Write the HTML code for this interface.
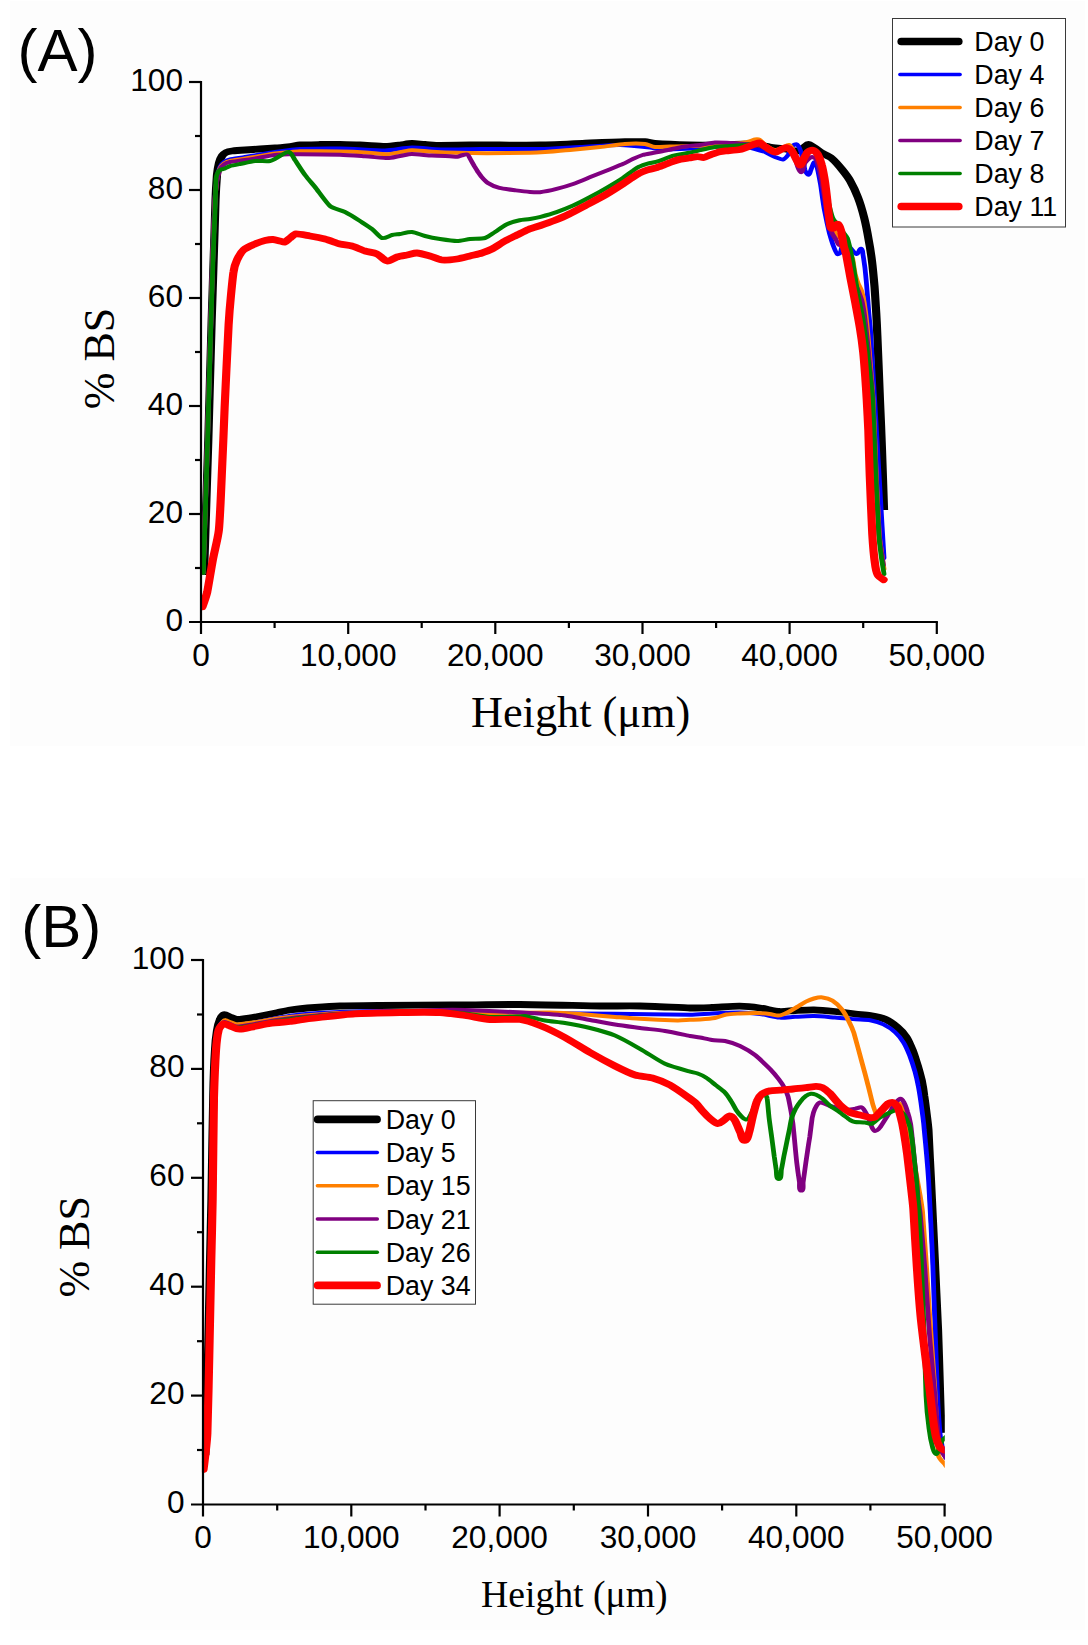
<!DOCTYPE html>
<html lang="en"><head><meta charset="utf-8"><title>Backscattering profiles</title>
<style>html,body{margin:0;padding:0;background:#fff}svg{display:block}</style>
</head><body>
<svg width="1088" height="1645" viewBox="0 0 1088 1645">
<rect width="1088" height="1645" fill="#fff"/>
<rect x="10" y="1" width="1075" height="745" fill="#fdfdfd"/>
<rect x="10" y="878" width="1075" height="752" fill="#fdfdfd"/>
<g>
<clipPath id="clipA"><rect x="199.9" y="72.0" width="737.1" height="550.0"/></clipPath>
<g clip-path="url(#clipA)">
<path transform="scale(1.2 1)" fill="none" stroke="#000000" stroke-width="6.8" stroke-linejoin="round" stroke-linecap="butt" d="M170.0 575.0 C170.0 575.0 171.6 516.0 172.0 500.0 C172.4 484.0 173.2 456.0 173.6 440.0 C174.0 424.0 175.9 338.7 176.4 320.0 C176.9 301.3 178.0 263.3 178.3 250.0 C178.7 236.7 179.4 206.7 179.6 200.0 C179.8 193.3 180.6 178.2 180.8 175.0 C181.1 171.8 182.1 164.9 182.5 163.0 C182.9 161.1 184.4 157.1 185.0 156.0 C185.6 154.9 187.2 153.2 188.3 152.5 C189.4 151.8 192.0 151.2 193.3 151.0 C194.7 150.8 201.3 150.2 204.2 150.0 C207.1 149.8 213.3 149.3 216.7 149.0 C220.0 148.7 225.8 148.3 229.2 148.0 C232.5 147.7 239.4 146.8 241.7 146.5 C243.9 146.2 247.7 145.2 250.0 145.0 C252.3 144.8 262.2 144.6 266.7 144.5 C271.1 144.4 278.9 144.4 283.3 144.5 C287.8 144.6 295.6 144.8 300.0 145.0 C304.4 145.2 317.5 146.5 320.8 146.5 C324.2 146.5 330.7 145.4 333.3 145.0 C336.0 144.6 340.6 143.6 343.3 143.5 C346.0 143.4 351.3 144.3 354.2 144.5 C357.1 144.7 363.3 145.5 366.7 145.5 C370.0 145.5 385.0 145.1 391.7 145.0 C398.3 144.9 410.0 145.0 416.7 145.0 C423.3 145.0 441.1 145.2 450.0 145.0 C458.9 144.8 483.9 143.4 491.7 143.0 C499.4 142.6 516.4 141.8 520.8 141.7 C525.3 141.6 535.2 141.5 537.5 141.7 C539.8 141.9 543.6 143.3 545.8 143.5 C548.1 143.7 568.3 144.8 575.0 145.0 C581.7 145.2 593.3 145.1 600.0 145.0 C606.7 144.9 620.5 143.8 625.0 144.0 C629.5 144.2 638.3 146.4 641.7 147.0 C645.0 147.6 651.5 148.5 654.2 149.0 C656.8 149.5 662.6 151.1 664.2 151.0 C665.7 150.9 667.9 148.9 669.2 148.0 C670.4 147.1 672.1 144.5 673.6 144.5 C675.1 144.5 677.8 147.0 679.2 148.0 C680.6 149.0 683.4 151.8 685.0 153.0 C686.6 154.2 691.4 156.7 693.3 158.6 C695.2 160.5 700.2 167.3 702.0 170.0 C703.8 172.7 706.9 177.5 708.3 180.5 C709.7 183.5 713.4 192.5 714.8 197.0 C716.3 201.5 719.0 212.3 720.2 218.0 C721.4 223.7 723.1 234.3 723.9 240.0 C724.8 245.7 726.1 255.8 726.7 261.6 C727.3 267.4 728.3 280.2 728.8 287.0 C729.2 293.8 729.9 307.1 730.2 313.0 C730.5 318.9 730.9 329.1 731.1 335.0 C731.3 340.9 732.9 386.7 733.3 400.0 C733.8 413.3 734.6 436.7 735.0 450.0 C735.4 463.3 736.7 510.0 736.7 510.0"/>
<path transform="scale(1.2 1)" fill="none" stroke="#0000ff" stroke-width="4.0" stroke-linejoin="round" stroke-linecap="round" d="M169.3 573.0 C169.3 573.0 170.9 516.0 171.3 500.0 C171.8 484.0 172.5 456.0 172.9 440.0 C173.3 424.0 175.0 351.3 175.5 330.0 C176.0 308.7 177.1 263.3 177.5 250.0 C177.9 236.7 178.9 205.9 179.2 200.0 C179.4 194.1 180.5 181.0 180.8 178.0 C181.2 175.0 182.8 168.5 183.3 167.0 C183.9 165.5 185.6 163.0 186.7 162.0 C187.8 161.0 190.2 159.9 191.7 159.5 C193.1 159.1 200.8 157.7 204.2 157.0 C207.5 156.3 213.3 155.2 216.7 154.5 C220.0 153.8 225.8 152.6 229.2 152.0 C232.5 151.4 239.5 150.3 241.7 150.0 C243.9 149.7 247.8 149.1 250.0 149.0 C252.2 148.9 274.4 148.3 283.3 148.5 C292.2 148.7 314.8 150.6 320.8 150.5 C326.9 150.4 337.3 147.6 343.3 147.5 C349.4 147.4 360.4 149.3 366.7 149.5 C372.9 149.7 391.1 149.1 400.0 149.0 C408.9 148.9 441.1 149.2 450.0 149.0 C458.9 148.8 474.4 147.5 483.3 147.0 C492.2 146.5 510.0 144.9 516.7 145.0 C523.4 145.1 539.4 147.2 541.7 147.5 C543.9 147.8 547.7 149.4 550.0 149.5 C552.3 149.6 562.2 149.2 566.7 149.0 C571.1 148.8 578.9 148.4 583.3 148.0 C587.8 147.6 595.6 146.3 600.0 146.0 C604.4 145.7 613.3 145.6 616.7 146.0 C620.1 146.4 626.9 148.3 629.2 149.0 C631.4 149.7 635.4 151.0 637.5 152.0 C639.6 153.0 644.1 156.2 645.8 157.0 C647.5 157.8 650.9 159.8 652.5 159.5 C654.1 159.2 655.8 156.4 656.7 155.0 C657.5 153.6 659.8 146.9 660.4 146.0 C661.0 145.1 663.3 143.8 664.2 144.5 C665.0 145.2 666.9 149.9 667.5 152.0 C668.1 154.1 670.5 168.6 670.8 170.0 C671.2 171.4 672.2 174.7 673.6 174.7 C675.0 174.7 675.2 171.3 675.7 170.0 C676.2 168.7 677.7 163.1 678.3 162.5 C678.9 161.9 680.3 164.1 680.5 165.0 C680.7 165.9 683.0 179.2 683.8 184.4 C684.5 189.6 686.0 203.8 687.0 210.0 C688.0 216.2 690.5 229.9 691.2 233.3 C692.0 236.7 693.8 243.8 694.5 246.0 C695.2 248.2 697.1 253.4 697.7 254.0 C698.2 254.6 700.0 253.3 700.3 252.6 C700.7 251.9 701.6 245.8 702.0 245.0 C702.4 244.2 704.2 243.2 705.0 243.5 C705.8 243.8 707.5 246.3 708.3 247.4 C709.2 248.5 712.0 253.8 713.8 254.0 C715.5 254.2 715.8 248.4 717.5 248.7 C719.2 249.0 718.9 253.3 719.2 255.0 C719.5 256.7 720.4 264.5 720.8 268.0 C721.1 271.5 722.0 281.9 722.3 287.0 C722.7 292.1 723.7 308.5 724.0 313.0 C724.3 317.5 725.2 325.5 725.4 330.0 C725.7 334.5 729.8 420.2 730.7 437.0 C731.5 453.8 733.0 484.5 733.8 500.0 C734.5 515.5 736.7 558.0 736.7 558.0"/>
<path transform="scale(1.2 1)" fill="none" stroke="#ff8000" stroke-width="4.0" stroke-linejoin="round" stroke-linecap="round" d="M169.3 573.0 C169.3 573.0 170.9 516.0 171.3 500.0 C171.8 484.0 172.5 456.0 172.9 440.0 C173.3 424.0 175.0 351.3 175.5 330.0 C176.0 308.7 177.1 263.3 177.5 250.0 C177.9 236.7 178.9 205.6 179.2 200.0 C179.4 194.4 180.5 181.9 180.8 179.0 C181.2 176.1 182.8 170.0 183.3 168.5 C183.9 167.0 185.6 164.5 186.7 163.5 C187.8 162.5 190.2 161.4 191.7 161.0 C193.1 160.6 200.8 159.2 204.2 158.5 C207.5 157.8 213.3 156.7 216.7 156.0 C220.0 155.3 225.9 154.0 229.2 153.5 C232.5 153.0 239.4 152.2 241.7 152.0 C243.9 151.8 247.8 151.2 250.0 151.2 C252.2 151.2 277.8 151.4 283.3 151.5 C288.9 151.6 299.3 152.1 304.2 152.5 C309.1 152.9 319.6 154.3 322.5 154.3 C325.4 154.3 330.7 152.8 333.3 152.3 C336.0 151.8 340.6 150.4 343.3 150.3 C346.1 150.2 355.5 151.4 360.0 151.7 C364.5 152.0 375.5 152.6 381.2 152.8 C386.8 153.0 399.3 153.2 405.8 153.2 C412.4 153.2 438.3 152.9 441.7 152.8 C445.0 152.7 450.8 152.3 454.2 152.0 C457.5 151.7 469.5 150.6 475.0 150.0 C480.5 149.4 494.4 147.7 500.0 147.0 C505.6 146.3 516.4 144.4 520.8 144.0 C525.3 143.6 535.2 143.7 537.5 144.0 C539.8 144.3 543.5 146.7 545.8 147.0 C548.2 147.3 555.0 146.6 558.3 146.5 C561.7 146.4 570.6 146.2 575.0 146.0 C579.4 145.8 594.4 145.4 600.0 145.0 C605.6 144.6 618.5 142.9 620.8 142.5 C623.2 142.1 628.1 139.7 629.2 139.5 C630.3 139.3 632.4 139.4 633.3 140.0 C634.3 140.6 636.1 143.9 637.5 145.0 C638.9 146.1 644.2 149.7 645.8 150.0 C647.4 150.3 650.2 148.6 651.7 148.0 C653.2 147.4 655.9 144.7 657.5 145.0 C659.1 145.3 660.2 148.5 660.8 150.0 C661.5 151.5 663.5 158.3 664.2 160.0 C664.8 161.7 665.4 166.6 667.1 166.0 C668.8 165.4 669.2 159.9 670.0 158.0 C670.8 156.1 672.6 151.9 673.3 151.0 C674.1 150.1 676.4 149.1 677.5 149.5 C678.6 149.9 681.0 152.5 681.7 154.0 C682.4 155.5 684.3 162.0 685.0 165.0 C685.7 168.0 686.9 176.0 687.5 180.0 C688.1 184.0 689.3 194.7 690.0 200.0 C690.7 205.3 692.0 217.3 692.5 220.0 C693.0 222.7 694.5 228.4 695.0 230.0 C695.5 231.6 697.1 235.0 697.7 235.8 C698.3 236.6 700.1 237.2 700.8 238.0 C701.5 238.8 703.5 241.6 704.2 243.0 C704.9 244.4 706.7 250.1 707.5 252.0 C708.3 253.9 710.1 257.0 710.6 259.0 C711.0 261.0 712.2 272.1 712.7 274.4 C713.1 276.7 714.3 280.8 715.0 283.0 C715.7 285.2 717.5 288.9 718.1 291.2 C718.7 293.5 719.8 299.6 720.2 302.7 C720.6 305.8 722.0 319.0 722.5 325.0 C723.0 331.0 724.4 350.7 725.0 360.0 C725.6 369.3 727.0 387.9 727.5 398.0 C728.0 408.1 729.7 460.0 730.2 475.6 C730.8 491.2 732.4 529.2 732.7 534.0 C732.9 538.8 734.1 547.5 734.6 552.0 C735.1 556.5 736.7 569.0 736.7 569.0"/>
<path transform="scale(1.2 1)" fill="none" stroke="#800080" stroke-width="4.0" stroke-linejoin="round" stroke-linecap="round" d="M169.3 573.0 C169.3 573.0 170.9 516.0 171.3 500.0 C171.8 484.0 172.5 456.0 172.9 440.0 C173.3 424.0 175.0 351.3 175.5 330.0 C176.0 308.7 177.1 263.3 177.5 250.0 C177.9 236.7 178.9 205.3 179.2 200.0 C179.4 194.7 180.4 182.9 180.8 180.0 C181.2 177.1 182.8 171.0 183.3 169.5 C183.9 168.0 185.6 165.5 186.7 164.5 C187.8 163.5 190.2 162.4 191.7 162.0 C193.1 161.6 200.8 160.6 204.2 160.0 C207.5 159.4 213.3 158.2 216.7 157.5 C220.0 156.8 225.9 155.4 229.2 155.0 C232.5 154.6 239.4 154.4 241.7 154.3 C243.9 154.2 247.8 154.3 250.0 154.3 C252.2 154.3 277.8 154.6 283.3 154.8 C288.9 155.0 299.2 155.9 304.2 156.3 C309.2 156.7 320.1 158.1 322.9 158.1 C325.8 158.1 330.7 156.5 333.3 156.0 C336.0 155.5 340.6 154.0 343.3 154.0 C346.1 154.0 356.0 155.3 360.0 155.6 C364.0 155.9 373.4 156.1 375.0 156.2 C376.6 156.3 380.1 156.8 381.2 156.7 C382.3 156.6 383.9 155.6 385.0 155.3 C386.1 155.0 388.3 154.0 389.4 154.5 C390.5 155.0 391.1 157.4 391.7 158.5 C392.2 159.6 394.7 164.9 395.4 166.4 C396.2 167.9 397.7 170.8 398.3 172.0 C399.0 173.2 400.1 175.2 400.9 176.3 C401.7 177.4 404.6 181.5 406.4 182.9 C408.2 184.3 413.3 187.0 416.1 187.9 C418.8 188.8 426.8 189.9 429.9 190.4 C433.0 190.9 439.5 191.8 441.7 192.0 C443.9 192.2 447.8 192.5 450.0 192.2 C452.2 191.9 460.2 190.0 463.8 188.9 C467.5 187.8 474.0 185.5 477.6 184.0 C481.2 182.5 487.8 179.1 491.4 177.3 C495.1 175.5 501.5 172.5 505.2 170.7 C508.8 168.9 516.7 165.3 519.0 164.1 C521.3 162.9 525.1 160.3 527.3 159.1 C529.4 157.9 533.4 155.8 535.5 155.0 C537.6 154.2 541.6 153.5 543.8 153.0 C546.1 152.5 551.1 151.4 553.5 150.8 C555.9 150.2 560.3 149.1 562.5 148.5 C564.7 147.9 568.6 146.9 570.8 146.5 C573.1 146.1 580.0 145.5 583.3 145.0 C586.6 144.5 592.5 142.8 595.8 142.5 C599.2 142.2 605.0 142.8 608.3 143.0 C611.7 143.2 617.5 143.6 620.8 144.0 C624.2 144.4 630.1 145.1 633.3 146.0 C636.6 146.9 643.5 150.8 645.8 151.0 C648.2 151.2 653.0 148.2 654.2 148.0 C655.3 147.8 657.6 148.1 658.3 149.0 C659.1 149.9 661.6 155.5 662.5 158.0 C663.4 160.5 664.9 170.7 667.1 172.0 C669.3 173.3 669.7 164.8 670.8 163.0 C672.0 161.2 675.2 157.5 676.2 157.0 C677.3 156.5 679.5 158.0 680.0 159.0 C680.5 160.0 682.7 168.5 683.3 172.0 C684.0 175.5 685.8 188.9 686.7 195.0 C687.5 201.1 689.4 216.5 690.0 220.0 C690.6 223.5 692.7 231.1 693.3 233.0 C694.0 234.9 696.0 238.3 696.7 239.7 C697.3 241.1 698.5 244.3 699.2 244.8 C699.9 245.3 701.1 242.5 701.7 243.0 C702.3 243.5 704.4 248.0 705.0 250.0 C705.6 252.0 707.4 261.0 708.3 265.0 C709.3 269.0 711.2 277.5 712.5 282.0 C713.8 286.5 717.2 296.6 718.1 300.0 C718.9 303.4 719.7 309.5 720.2 313.0 C720.6 316.5 721.8 329.1 722.3 335.0 C722.9 340.9 724.2 357.0 724.8 365.0 C725.5 373.0 726.9 389.2 727.3 398.0 C727.7 406.8 729.4 460.0 730.0 475.6 C730.6 491.2 732.2 528.9 732.5 534.0 C732.8 539.1 734.2 549.8 734.6 553.0 C735.0 556.2 736.2 565.0 736.2 565.0"/>
<path transform="scale(1.2 1)" fill="none" stroke="#008000" stroke-width="4.0" stroke-linejoin="round" stroke-linecap="round" d="M169.4 573.0 C169.4 573.0 171.0 516.0 171.4 500.0 C171.8 484.0 172.6 456.0 173.0 440.0 C173.4 424.0 175.1 348.7 175.6 330.0 C176.1 311.3 177.1 273.3 177.5 260.0 C177.9 246.7 178.9 218.3 179.2 210.0 C179.4 201.7 179.9 180.9 180.0 179.0 C180.1 177.1 181.3 172.9 181.7 172.0 C182.0 171.1 183.4 170.0 184.2 169.5 C185.0 169.0 186.7 168.9 187.5 168.5 C188.3 168.1 190.4 166.4 191.7 166.0 C192.9 165.6 197.8 164.5 200.0 164.0 C202.2 163.5 209.2 161.4 212.5 161.0 C215.8 160.6 222.5 161.6 225.0 161.0 C227.5 160.4 231.4 157.1 233.3 156.0 C235.3 154.9 238.7 151.3 240.8 152.0 C243.0 152.7 244.6 157.8 245.8 160.0 C247.1 162.2 252.1 171.7 254.2 175.0 C256.2 178.3 260.3 183.8 262.5 187.0 C264.7 190.2 272.4 203.4 275.0 206.0 C277.6 208.6 284.3 210.1 287.5 212.0 C290.7 213.9 297.3 218.9 300.0 221.0 C302.7 223.1 307.6 226.8 310.0 229.0 C312.4 231.2 316.1 237.2 318.3 238.0 C320.6 238.8 324.9 235.5 326.7 235.0 C328.4 234.5 331.6 234.3 333.3 234.0 C335.1 233.7 340.6 231.7 343.3 232.0 C346.0 232.3 351.2 235.1 354.2 236.0 C357.1 236.9 363.3 238.4 366.7 239.0 C370.0 239.6 377.9 241.0 380.8 241.0 C383.8 241.0 388.8 239.4 391.7 239.0 C394.6 238.6 401.6 238.9 404.2 238.0 C406.8 237.1 410.3 233.7 412.5 232.0 C414.7 230.3 419.3 226.1 422.0 224.5 C424.7 222.9 430.7 220.9 433.0 220.3 C435.3 219.7 439.4 219.5 441.7 219.0 C444.0 218.5 448.2 217.5 450.5 216.8 C452.8 216.1 460.4 213.6 463.8 212.1 C467.3 210.6 474.0 207.4 477.6 205.5 C481.2 203.6 487.8 199.5 491.4 197.2 C495.1 194.9 501.6 190.6 505.2 188.1 C508.8 185.6 516.7 179.9 519.0 178.1 C521.3 176.3 525.8 171.9 527.3 170.7 C528.7 169.5 531.2 167.5 532.8 166.6 C534.3 165.7 537.9 164.2 539.7 163.6 C541.5 163.0 544.8 162.5 546.6 161.9 C548.4 161.3 551.7 159.9 553.5 159.1 C555.3 158.3 558.7 156.4 560.4 155.8 C562.2 155.2 565.4 154.5 567.3 154.1 C569.1 153.7 572.3 153.2 574.2 152.8 C576.0 152.4 580.9 150.9 583.3 150.2 C585.8 149.5 592.5 147.6 595.8 147.0 C599.1 146.4 605.0 146.3 608.3 146.0 C611.7 145.7 618.6 145.2 620.8 145.0 C623.1 144.8 626.9 143.7 629.2 144.0 C631.4 144.3 635.4 146.0 637.5 147.0 C639.6 148.0 643.9 151.7 645.8 152.0 C647.8 152.3 651.0 149.5 652.5 149.0 C654.0 148.5 657.0 147.2 658.3 148.0 C659.7 148.8 661.6 153.0 662.5 155.0 C663.4 157.0 664.9 165.2 667.1 166.0 C669.3 166.8 669.8 159.9 670.8 158.0 C671.8 156.1 674.1 151.7 675.0 151.0 C675.9 150.3 678.4 151.2 679.2 152.0 C679.9 152.8 682.7 157.7 683.3 160.0 C684.0 162.3 685.9 173.2 686.7 178.0 C687.5 182.8 689.1 195.2 690.0 200.0 C690.9 204.8 693.2 215.7 693.9 217.8 C694.6 219.9 697.2 223.1 698.3 225.0 C699.5 226.9 701.5 230.3 702.5 232.0 C703.5 233.7 705.7 236.5 706.2 238.4 C706.8 240.3 709.6 255.4 710.6 261.6 C711.5 267.8 713.8 286.8 714.8 293.7 C715.9 300.6 718.2 312.7 719.2 319.5 C720.1 326.3 721.4 338.3 722.1 345.0 C722.8 351.7 724.0 363.3 724.6 370.0 C725.2 376.7 726.7 390.5 727.1 398.0 C727.5 405.5 729.2 460.0 729.8 475.6 C730.4 491.2 731.9 528.4 732.3 534.0 C732.6 539.6 733.6 549.9 734.2 555.0 C734.7 560.1 736.7 574.0 736.7 574.0"/>
<path transform="scale(1.2 1)" fill="none" stroke="#ff0000" stroke-width="6.8" stroke-linejoin="round" stroke-linecap="round" d="M168.7 606.8 C168.7 606.8 171.9 596.0 172.7 592.0 C173.4 588.0 176.3 566.7 177.5 559.0 C178.7 551.3 181.7 537.8 182.4 530.0 C183.1 522.2 184.3 490.1 184.8 475.6 C185.4 461.1 186.6 425.7 187.2 407.5 C187.9 389.3 190.1 333.0 190.5 325.0 C190.9 317.0 192.0 301.1 192.5 295.0 C193.0 288.9 194.1 275.3 194.6 272.0 C195.0 268.7 196.4 262.8 197.5 260.0 C198.6 257.2 200.9 252.2 202.9 250.0 C205.0 247.8 210.4 245.1 212.5 244.0 C214.6 242.9 219.1 241.0 220.8 240.5 C222.6 240.0 225.9 239.4 227.5 239.5 C229.1 239.6 232.2 240.7 233.3 241.0 C234.4 241.3 236.4 242.4 237.5 242.0 C238.6 241.6 240.5 239.0 241.7 238.0 C242.8 237.0 245.0 234.2 246.7 234.0 C248.4 233.8 255.2 235.4 258.3 236.0 C261.4 236.6 267.6 238.0 270.8 239.0 C274.1 240.0 280.7 243.2 283.3 244.0 C285.9 244.8 290.8 245.1 293.3 246.0 C295.9 246.9 301.6 250.0 304.2 251.0 C306.8 252.0 311.7 252.7 314.2 254.0 C316.6 255.3 320.1 260.6 322.5 261.0 C324.9 261.4 328.7 257.8 330.8 257.0 C333.0 256.2 336.9 255.5 339.2 255.0 C341.4 254.5 345.2 252.9 347.5 253.0 C349.8 253.1 355.6 255.1 358.3 256.0 C361.1 256.9 365.5 259.6 368.3 260.0 C371.2 260.4 377.9 259.5 380.8 259.0 C383.8 258.5 389.0 256.8 391.7 256.0 C394.3 255.2 399.4 253.9 401.7 253.0 C404.0 252.1 407.9 250.3 410.0 249.0 C412.1 247.7 418.3 242.7 420.8 241.0 C423.4 239.3 428.3 236.5 430.8 235.0 C433.4 233.5 437.8 230.8 440.4 229.5 C443.0 228.2 447.8 226.6 450.5 225.5 C453.2 224.4 458.6 222.2 461.5 220.8 C464.4 219.4 471.1 216.0 474.4 214.0 C477.8 212.0 487.7 205.6 491.4 203.3 C495.1 201.0 501.6 196.9 505.2 194.4 C508.7 191.9 516.8 185.7 519.0 184.0 C521.2 182.3 525.8 178.4 527.3 177.3 C528.7 176.2 531.2 174.1 532.8 173.2 C534.3 172.3 537.9 170.6 539.7 169.9 C541.5 169.2 544.8 168.6 546.6 167.9 C548.4 167.2 551.7 165.7 553.5 164.9 C555.3 164.1 558.6 162.4 560.4 161.6 C562.2 160.8 565.4 159.6 567.3 159.1 C569.1 158.6 572.3 158.3 574.2 158.0 C576.0 157.7 579.6 156.7 581.1 156.6 C582.6 156.5 585.1 157.8 586.6 157.5 C588.0 157.2 591.8 154.8 593.5 154.1 C595.2 153.4 598.5 152.1 600.0 151.7 C601.5 151.3 604.3 151.0 605.8 150.8 C607.4 150.6 614.3 150.1 616.7 149.5 C619.0 148.9 623.9 146.5 625.0 146.0 C626.1 145.5 628.1 144.4 629.2 144.0 C630.2 143.6 632.3 142.6 633.3 143.0 C634.4 143.4 638.1 147.3 639.8 148.5 C641.4 149.7 644.5 152.1 646.2 152.2 C647.8 152.3 650.5 149.5 651.6 149.0 C652.7 148.5 654.7 147.4 655.8 147.7 C657.0 148.0 659.3 150.2 660.2 151.5 C661.0 152.8 663.9 160.1 664.4 161.2 C665.0 162.3 666.0 165.5 667.1 165.0 C668.2 164.5 669.1 160.3 669.8 158.6 C670.6 156.9 672.2 153.1 673.0 152.2 C673.8 151.3 676.1 149.8 677.3 150.2 C678.6 150.6 680.8 153.2 681.6 154.7 C682.3 156.2 684.2 162.2 684.8 165.0 C685.5 167.8 686.5 174.5 687.0 178.0 C687.5 181.5 688.6 191.9 689.1 197.0 C689.6 202.1 690.4 213.4 690.8 216.5 C691.1 219.6 692.1 227.3 692.3 228.0 C692.6 228.7 694.4 228.4 695.0 228.0 C695.6 227.6 697.0 223.6 698.2 224.2 C699.5 224.8 700.5 228.9 700.9 230.7 C701.3 232.5 702.7 243.8 703.1 246.0 C703.5 248.2 704.7 252.1 705.1 254.3 C705.5 256.5 707.8 272.1 708.8 278.6 C709.9 285.1 711.7 296.5 712.8 303.0 C713.8 309.5 715.6 320.8 716.5 327.3 C717.4 333.8 718.7 345.1 719.3 351.6 C719.9 358.1 720.6 369.6 721.0 376.0 C721.4 382.4 722.0 393.6 722.3 400.0 C722.6 406.4 723.3 422.0 723.6 430.0 C723.8 438.0 724.4 463.4 724.8 475.6 C725.2 487.8 726.5 526.3 726.9 534.0 C727.3 541.7 728.7 559.8 729.1 563.0 C729.4 566.2 730.8 573.4 731.5 575.0 C732.2 576.6 736.3 579.7 736.3 579.7"/>
</g>
<g stroke="#000" stroke-width="2.2" fill="none" stroke-linecap="butt">
<path d="M201.0 80.9 V634.0"/>
<path d="M189.0 622.0 H937.9"/>
<path d="M195.0 568.0 H201.0"/>
<path d="M189.0 514.0 H201.0"/>
<path d="M195.0 460.0 H201.0"/>
<path d="M189.0 406.0 H201.0"/>
<path d="M195.0 352.0 H201.0"/>
<path d="M189.0 298.0 H201.0"/>
<path d="M195.0 244.0 H201.0"/>
<path d="M189.0 190.0 H201.0"/>
<path d="M195.0 136.0 H201.0"/>
<path d="M189.0 82.0 H201.0"/>
<path d="M274.6 622.0 V628.0"/>
<path d="M348.2 622.0 V634.0"/>
<path d="M421.7 622.0 V628.0"/>
<path d="M495.3 622.0 V634.0"/>
<path d="M568.9 622.0 V628.0"/>
<path d="M642.5 622.0 V634.0"/>
<path d="M716.1 622.0 V628.0"/>
<path d="M789.6 622.0 V634.0"/>
<path d="M863.2 622.0 V628.0"/>
<path d="M936.8 622.0 V634.0"/>
</g>
<g font-family='"Liberation Sans", Arial, sans-serif' font-size="31.6" fill="#000">
<text x="183.0" y="630.5" text-anchor="end">0</text>
<text x="183.0" y="522.5" text-anchor="end">20</text>
<text x="183.0" y="414.5" text-anchor="end">40</text>
<text x="183.0" y="306.5" text-anchor="end">60</text>
<text x="183.0" y="198.5" text-anchor="end">80</text>
<text x="183.0" y="90.5" text-anchor="end">100</text>
<text x="201.0" y="665.5" text-anchor="middle">0</text>
<text x="348.2" y="665.5" text-anchor="middle">10,000</text>
<text x="495.3" y="665.5" text-anchor="middle">20,000</text>
<text x="642.5" y="665.5" text-anchor="middle">30,000</text>
<text x="789.6" y="665.5" text-anchor="middle">40,000</text>
<text x="936.8" y="665.5" text-anchor="middle">50,000</text>
</g>
<text font-family='"Liberation Serif", "Times New Roman", serif' font-size="44.3" text-anchor="middle" x="580.6" y="727.2">Height (μm)</text>
<text font-family='"Liberation Serif", "Times New Roman", serif' font-size="44" text-anchor="middle" transform="translate(113.8 358.5) rotate(-90)">% BS</text>
<text font-family='"Liberation Sans", Arial, sans-serif' font-size="60" x="17.6" y="70.5">(A)</text>
<rect x="892.5" y="18.5" width="173.0" height="208.5" fill="#fff" stroke="#3a3a3a" stroke-width="1"/>
<path d="M901.2 41.5 H958.8" stroke="#000000" stroke-width="7.6" stroke-linecap="round"/>
<text font-family='"Liberation Sans", Arial, sans-serif' font-size="26.8" x="974.3" y="50.5">Day 0</text>
<path d="M899.9 74.5 H960.1" stroke="#0000ff" stroke-width="3.5" stroke-linecap="round"/>
<text font-family='"Liberation Sans", Arial, sans-serif' font-size="26.8" x="974.3" y="83.5">Day 4</text>
<path d="M899.9 107.5 H960.1" stroke="#ff8000" stroke-width="3.5" stroke-linecap="round"/>
<text font-family='"Liberation Sans", Arial, sans-serif' font-size="26.8" x="974.3" y="116.5">Day 6</text>
<path d="M899.9 140.5 H960.1" stroke="#800080" stroke-width="3.5" stroke-linecap="round"/>
<text font-family='"Liberation Sans", Arial, sans-serif' font-size="26.8" x="974.3" y="149.5">Day 7</text>
<path d="M899.9 173.5 H960.1" stroke="#008000" stroke-width="3.5" stroke-linecap="round"/>
<text font-family='"Liberation Sans", Arial, sans-serif' font-size="26.8" x="974.3" y="182.5">Day 8</text>
<path d="M901.2 206.5 H958.8" stroke="#ff0000" stroke-width="7.6" stroke-linecap="round"/>
<text font-family='"Liberation Sans", Arial, sans-serif' font-size="26.8" x="974.3" y="215.5">Day 11</text>
</g>
<g>
<clipPath id="clipB"><rect x="201.9" y="950.0" width="742.9" height="554.5"/></clipPath>
<g clip-path="url(#clipB)">
<path transform="scale(1.2 1)" fill="none" stroke="#000000" stroke-width="6.8" stroke-linejoin="round" stroke-linecap="butt" d="M171.1 1455.0 C171.1 1455.0 171.7 1438.9 171.8 1433.0 C172.0 1427.1 173.0 1376.2 173.4 1355.6 C173.8 1335.0 174.8 1273.5 175.1 1258.0 C175.4 1242.5 175.9 1215.5 176.2 1200.0 C176.4 1184.5 177.4 1109.5 177.7 1097.0 C177.9 1084.5 178.9 1055.1 179.2 1050.0 C179.4 1044.9 180.4 1034.0 180.8 1031.0 C181.2 1028.0 182.6 1021.6 183.2 1020.0 C183.7 1018.4 185.3 1015.2 186.7 1014.7 C188.1 1014.2 190.3 1016.4 191.7 1017.0 C193.0 1017.6 195.7 1019.2 197.3 1019.4 C199.0 1019.6 202.4 1018.8 204.2 1018.5 C206.0 1018.2 211.4 1017.3 214.0 1016.7 C216.6 1016.1 227.9 1013.4 230.8 1012.7 C233.7 1012.0 238.7 1010.5 241.7 1010.0 C244.6 1009.5 257.0 1008.0 262.5 1007.5 C268.0 1007.0 277.8 1006.2 283.3 1006.0 C288.9 1005.8 307.8 1005.6 316.7 1005.5 C325.6 1005.4 361.6 1005.1 376.7 1005.0 C391.8 1004.9 418.2 1004.4 433.3 1004.5 C448.4 1004.6 491.1 1005.9 500.0 1006.0 C508.9 1006.1 524.4 1005.8 533.3 1006.0 C542.2 1006.2 570.1 1007.9 575.0 1008.0 C579.9 1008.1 588.4 1007.7 593.3 1007.5 C598.2 1007.3 611.9 1006.1 616.4 1006.2 C621.0 1006.3 629.0 1007.3 633.3 1008.0 C637.7 1008.7 646.0 1011.2 649.5 1011.5 C653.0 1011.8 659.0 1010.7 662.5 1010.5 C666.0 1010.3 674.1 1009.7 678.3 1009.8 C682.6 1009.9 691.2 1010.9 695.8 1011.5 C700.4 1012.1 709.8 1013.5 713.0 1014.0 C716.2 1014.5 722.0 1014.9 725.2 1015.6 C728.4 1016.3 734.8 1017.7 737.8 1019.3 C740.9 1020.9 745.6 1025.0 747.9 1027.4 C750.3 1029.8 753.9 1034.5 755.5 1037.5 C757.1 1040.5 759.4 1047.1 760.6 1050.7 C761.8 1054.3 763.7 1061.8 764.8 1065.8 C765.8 1069.8 767.4 1077.0 768.2 1081.0 C768.9 1085.0 769.8 1092.2 770.2 1096.2 C770.7 1100.2 771.5 1107.3 771.9 1111.3 C772.3 1115.3 773.4 1125.0 773.7 1130.0 C773.9 1135.0 775.2 1166.7 775.8 1180.0 C776.3 1193.3 778.3 1241.3 779.0 1260.0 C779.7 1278.7 781.1 1314.0 781.7 1330.0 C782.2 1346.0 783.0 1378.6 783.3 1390.0 C783.7 1401.4 784.6 1432.8 784.6 1432.8"/>
<path transform="scale(1.2 1)" fill="none" stroke="#0000ff" stroke-width="4.0" stroke-linejoin="round" stroke-linecap="round" d="M170.2 1462.0 C170.2 1462.0 172.5 1440.8 172.8 1433.0 C173.1 1425.2 174.0 1376.2 174.4 1355.6 C174.8 1335.0 175.8 1273.5 176.1 1258.0 C176.4 1242.5 177.0 1215.5 177.2 1200.0 C177.4 1184.5 178.1 1109.5 178.3 1097.0 C178.6 1084.5 179.8 1054.8 180.0 1050.0 C180.2 1045.2 180.6 1034.0 180.8 1032.0 C181.1 1030.0 182.7 1026.2 183.3 1025.0 C184.0 1023.8 185.3 1021.3 186.7 1021.0 C188.0 1020.7 190.3 1022.5 191.7 1023.0 C193.0 1023.5 195.9 1025.1 197.5 1025.0 C199.1 1024.9 209.7 1022.9 214.2 1022.0 C218.6 1021.1 226.4 1018.9 230.8 1018.0 C235.3 1017.1 244.8 1015.1 250.0 1014.5 C255.2 1013.9 274.4 1012.4 283.3 1012.0 C292.2 1011.6 320.0 1010.9 333.3 1011.0 C346.7 1011.1 382.2 1012.2 400.0 1012.5 C417.8 1012.8 495.8 1013.5 512.5 1013.8 C529.2 1014.0 570.1 1014.8 575.0 1014.8 C579.9 1014.8 588.4 1013.8 593.3 1013.5 C598.2 1013.2 612.2 1012.4 616.7 1012.5 C621.1 1012.6 629.0 1013.3 633.3 1014.0 C637.7 1014.7 646.0 1017.3 649.5 1017.6 C653.0 1017.9 659.0 1017.0 662.5 1016.8 C666.0 1016.6 674.1 1016.0 678.3 1016.1 C682.6 1016.2 691.2 1017.1 695.8 1017.5 C700.4 1017.9 709.8 1019.0 713.0 1019.3 C716.2 1019.6 722.1 1019.6 725.2 1020.3 C728.2 1021.0 733.5 1022.8 736.2 1024.4 C738.9 1026.0 744.1 1030.1 746.2 1032.5 C748.4 1034.9 751.5 1039.7 753.0 1042.6 C754.5 1045.5 756.9 1052.1 758.1 1055.7 C759.2 1059.3 761.3 1066.9 762.3 1070.9 C763.2 1074.9 764.6 1082.0 765.2 1086.0 C765.9 1090.0 766.8 1097.2 767.3 1101.2 C767.8 1105.2 768.6 1112.8 769.0 1116.4 C769.4 1120.0 770.0 1126.4 770.2 1130.0 C770.5 1133.6 773.1 1166.7 773.8 1180.0 C774.5 1193.3 776.4 1238.7 777.2 1260.0 C777.9 1281.3 780.6 1378.0 781.1 1390.0 C781.5 1402.0 783.1 1430.4 783.5 1435.0 C783.9 1439.6 785.9 1450.3 786.2 1452.0 C786.6 1453.7 788.3 1458.0 788.3 1458.0"/>
<path transform="scale(1.2 1)" fill="none" stroke="#ff8000" stroke-width="4.0" stroke-linejoin="round" stroke-linecap="round" d="M170.2 1462.0 C170.2 1462.0 172.5 1440.8 172.8 1433.0 C173.1 1425.2 174.0 1376.2 174.4 1355.6 C174.8 1335.0 175.8 1273.5 176.1 1258.0 C176.4 1242.5 177.0 1215.5 177.2 1200.0 C177.4 1184.5 178.1 1109.5 178.3 1097.0 C178.6 1084.5 179.7 1055.3 180.0 1050.0 C180.3 1044.7 181.0 1032.8 181.7 1030.0 C182.3 1027.2 185.6 1021.4 186.7 1020.5 C187.8 1019.6 190.4 1021.5 191.7 1022.0 C193.0 1022.5 195.8 1024.5 197.5 1024.5 C199.2 1024.5 209.7 1022.8 214.2 1022.0 C218.6 1021.2 226.4 1019.2 230.8 1018.5 C235.3 1017.8 244.9 1016.5 250.0 1016.0 C255.1 1015.5 274.4 1013.4 283.3 1013.0 C292.2 1012.6 320.0 1012.0 333.3 1012.0 C346.7 1012.0 384.4 1012.9 400.0 1013.0 C415.6 1013.1 451.7 1012.4 458.3 1012.5 C465.0 1012.6 476.7 1013.4 483.3 1014.0 C490.0 1014.6 506.9 1016.5 512.5 1017.0 C518.1 1017.5 527.8 1018.4 533.3 1018.8 C538.9 1019.1 561.8 1020.4 564.6 1020.5 C567.4 1020.6 572.8 1019.9 575.0 1019.8 C577.2 1019.7 581.1 1019.7 583.3 1019.5 C585.5 1019.3 593.0 1018.6 595.7 1018.0 C598.3 1017.4 602.7 1015.1 605.3 1014.5 C608.0 1013.9 613.6 1013.7 616.7 1013.5 C619.7 1013.3 627.0 1012.9 630.0 1013.0 C633.0 1013.1 639.4 1013.7 641.2 1014.0 C643.1 1014.3 646.9 1015.5 648.1 1015.6 C649.3 1015.7 651.4 1015.0 652.5 1014.5 C653.6 1014.0 656.4 1012.4 657.8 1011.5 C659.1 1010.6 662.5 1008.2 664.2 1007.0 C665.9 1005.8 669.9 1002.6 671.6 1001.6 C673.3 1000.6 676.5 999.1 678.3 998.5 C680.2 997.9 683.5 997.1 685.4 997.4 C687.3 997.7 691.8 999.3 693.7 1000.7 C695.6 1002.1 700.1 1007.1 701.9 1009.8 C703.7 1012.5 706.2 1018.4 707.4 1021.4 C708.7 1024.4 710.7 1029.8 711.6 1033.0 C712.4 1036.2 717.0 1056.5 718.3 1062.5 C719.7 1068.5 722.2 1079.7 723.3 1085.0 C724.5 1090.3 726.8 1102.3 727.5 1105.0 C728.2 1107.7 729.8 1114.1 730.8 1115.0 C731.8 1115.9 734.0 1113.0 735.0 1112.0 C736.0 1111.0 738.7 1107.1 740.0 1106.0 C741.3 1104.9 744.7 1103.2 745.8 1103.0 C747.0 1102.8 749.3 1103.1 750.0 1104.0 C750.7 1104.9 752.7 1109.8 753.3 1112.0 C754.0 1114.2 755.9 1123.7 756.7 1128.0 C757.4 1132.3 759.3 1145.5 760.0 1150.0 C760.7 1154.5 761.8 1162.5 762.5 1167.0 C763.2 1171.5 766.0 1190.5 766.7 1195.0 C767.3 1199.5 768.4 1207.4 768.8 1212.0 C769.1 1216.6 770.9 1247.2 771.7 1260.0 C772.4 1272.8 774.1 1304.0 775.0 1320.0 C775.9 1336.0 778.1 1373.0 778.8 1385.0 C779.4 1397.0 780.5 1423.1 780.8 1430.0 C781.2 1436.9 781.6 1453.5 782.1 1456.0 C782.6 1458.5 786.9 1463.5 787.3 1464.0 C787.6 1464.5 788.3 1466.0 788.3 1466.0"/>
<path transform="scale(1.2 1)" fill="none" stroke="#800080" stroke-width="4.0" stroke-linejoin="round" stroke-linecap="round" d="M170.2 1462.0 C170.2 1462.0 172.5 1440.8 172.8 1433.0 C173.1 1425.2 174.0 1376.2 174.4 1355.6 C174.8 1335.0 175.8 1273.5 176.1 1258.0 C176.4 1242.5 177.0 1215.5 177.2 1200.0 C177.4 1184.5 178.1 1109.5 178.3 1097.0 C178.6 1084.5 179.7 1055.1 180.0 1050.0 C180.3 1044.9 181.0 1033.7 181.7 1031.0 C182.3 1028.3 185.5 1022.8 186.7 1022.0 C187.8 1021.2 190.3 1023.4 191.7 1024.0 C193.0 1024.6 195.8 1026.5 197.5 1026.5 C199.2 1026.5 209.7 1024.4 214.2 1023.5 C218.6 1022.6 226.4 1020.8 230.8 1020.0 C235.3 1019.2 244.9 1017.6 250.0 1017.0 C255.1 1016.4 274.4 1014.1 283.3 1013.5 C292.3 1012.9 324.4 1011.9 333.3 1011.5 C342.2 1011.1 361.1 1010.2 366.7 1010.0 C372.2 1009.8 381.9 1009.8 387.5 1010.0 C393.1 1010.2 426.0 1011.9 435.4 1012.5 C444.9 1013.1 465.2 1014.7 470.8 1015.5 C476.5 1016.3 486.1 1018.8 491.7 1020.0 C497.2 1021.2 507.0 1023.4 512.5 1024.5 C518.0 1025.6 527.8 1027.1 533.3 1028.0 C538.9 1028.9 548.7 1029.9 554.2 1031.0 C559.7 1032.1 572.8 1035.5 575.0 1036.0 C577.2 1036.5 581.1 1037.0 583.3 1037.5 C585.5 1038.0 590.6 1039.5 593.3 1040.0 C596.0 1040.5 601.4 1040.3 604.2 1041.0 C607.0 1041.7 613.5 1044.2 616.7 1046.0 C619.8 1047.8 626.1 1052.2 629.2 1055.0 C632.2 1057.8 639.5 1066.4 641.7 1069.0 C643.8 1071.6 647.6 1077.1 649.0 1079.3 C650.4 1081.5 652.8 1085.8 653.8 1088.0 C654.7 1090.2 656.1 1094.2 656.7 1096.5 C657.2 1098.8 658.7 1108.2 659.2 1111.5 C659.7 1114.8 660.4 1120.7 660.8 1124.0 C661.1 1127.3 662.0 1138.4 662.4 1143.6 C662.8 1148.8 663.5 1157.9 664.0 1163.0 C664.5 1168.1 665.9 1179.7 666.2 1182.0 C666.5 1184.3 665.4 1190.5 667.8 1190.5 C670.1 1190.5 669.0 1184.3 669.3 1182.0 C669.6 1179.7 671.1 1166.5 671.5 1163.0 C671.9 1159.5 672.7 1153.5 673.1 1150.0 C673.5 1146.5 674.3 1140.5 674.8 1137.0 C675.2 1133.5 676.5 1120.4 676.8 1118.0 C677.2 1115.6 678.2 1110.9 679.0 1109.0 C679.8 1107.1 681.3 1103.0 683.3 1102.5 C685.4 1102.0 689.4 1105.2 691.7 1106.0 C693.9 1106.8 701.9 1109.7 704.2 1110.0 C706.4 1110.3 710.9 1109.0 712.5 1108.8 C714.1 1108.5 717.0 1106.7 718.3 1107.5 C719.7 1108.3 721.6 1112.9 722.5 1115.0 C723.4 1117.1 726.2 1126.4 726.7 1127.5 C727.1 1128.6 728.0 1131.0 729.2 1131.0 C730.3 1131.0 732.5 1128.7 733.3 1127.5 C734.1 1126.3 738.4 1118.0 740.0 1115.0 C741.6 1112.0 744.9 1105.3 745.8 1103.8 C746.8 1102.2 749.1 1099.0 750.3 1098.8 C751.6 1098.6 752.8 1101.3 753.3 1102.5 C753.9 1103.7 755.6 1109.1 756.2 1111.5 C756.9 1113.9 758.4 1120.8 758.9 1124.3 C759.4 1127.8 760.2 1138.5 760.7 1143.6 C761.1 1148.7 761.9 1157.9 762.3 1163.0 C762.8 1168.1 763.5 1177.2 763.9 1182.0 C764.3 1186.8 765.0 1196.0 765.3 1200.0 C765.7 1204.0 766.6 1211.0 766.9 1215.0 C767.2 1219.0 769.9 1255.3 770.8 1270.0 C771.8 1284.7 773.6 1319.8 774.6 1335.0 C775.6 1350.2 778.0 1381.3 778.8 1392.0 C779.5 1402.7 781.2 1427.2 781.7 1432.0 C782.1 1436.8 783.6 1447.7 784.2 1450.0 C784.8 1452.3 788.3 1458.0 788.3 1458.0"/>
<path transform="scale(1.2 1)" fill="none" stroke="#008000" stroke-width="4.0" stroke-linejoin="round" stroke-linecap="round" d="M170.2 1462.0 C170.2 1462.0 172.5 1440.8 172.8 1433.0 C173.1 1425.2 174.0 1376.2 174.4 1355.6 C174.8 1335.0 175.8 1273.5 176.1 1258.0 C176.4 1242.5 177.0 1215.5 177.2 1200.0 C177.4 1184.5 178.1 1109.5 178.3 1097.0 C178.6 1084.5 179.8 1054.8 180.0 1050.0 C180.2 1045.2 181.0 1034.7 181.7 1032.0 C182.3 1029.3 185.5 1023.8 186.7 1023.0 C187.8 1022.2 190.3 1024.4 191.7 1025.0 C193.0 1025.6 195.8 1027.5 197.5 1027.5 C199.2 1027.5 209.7 1025.4 214.2 1024.5 C218.6 1023.6 226.4 1021.8 230.8 1021.0 C235.3 1020.2 244.9 1018.7 250.0 1018.0 C255.1 1017.3 274.4 1014.6 283.3 1014.0 C292.3 1013.4 324.4 1012.3 333.3 1012.0 C342.2 1011.7 361.1 1011.3 366.7 1011.5 C372.2 1011.7 382.0 1012.8 387.5 1013.5 C393.0 1014.2 402.7 1016.6 408.3 1017.0 C414.0 1017.4 432.2 1016.5 433.3 1016.5 C434.5 1016.5 436.4 1015.8 437.5 1016.0 C438.6 1016.2 449.8 1019.6 454.2 1020.5 C458.6 1021.4 466.4 1022.1 470.8 1023.0 C475.2 1023.9 486.2 1026.4 491.7 1028.0 C497.1 1029.6 507.2 1032.9 512.5 1035.5 C517.8 1038.1 527.9 1045.1 533.3 1048.8 C538.8 1052.4 549.0 1060.9 554.2 1063.8 C559.4 1066.6 573.3 1071.0 575.0 1071.6 C576.7 1072.2 579.8 1072.8 581.4 1073.5 C583.0 1074.2 587.1 1076.6 588.9 1078.0 C590.8 1079.4 594.4 1083.2 596.4 1085.1 C598.4 1087.0 602.2 1090.1 603.9 1092.2 C605.6 1094.3 608.1 1098.9 609.3 1101.2 C610.6 1103.5 612.6 1108.4 613.6 1110.2 C614.6 1112.0 617.2 1115.7 617.9 1116.6 C618.6 1117.5 620.4 1119.2 621.1 1119.4 C621.8 1119.6 623.3 1119.1 623.8 1118.5 C624.2 1117.9 626.0 1113.8 626.7 1112.0 C627.3 1110.2 629.2 1103.9 630.0 1102.0 C630.8 1100.1 632.7 1095.8 633.3 1095.0 C634.0 1094.2 635.8 1092.5 636.7 1093.0 C637.6 1093.5 639.1 1097.0 639.3 1098.6 C639.6 1100.2 640.4 1112.8 640.9 1117.9 C641.4 1123.0 642.5 1132.1 643.1 1137.2 C643.7 1142.3 644.8 1153.1 645.2 1156.5 C645.7 1159.9 646.4 1166.8 646.8 1169.4 C647.3 1172.0 646.4 1179.0 649.0 1179.0 C651.6 1179.0 650.7 1172.0 651.2 1169.4 C651.7 1166.8 652.7 1159.9 653.2 1156.5 C653.8 1153.1 654.8 1147.0 655.4 1143.6 C656.0 1140.2 657.0 1134.2 657.6 1130.8 C658.2 1127.4 659.1 1120.4 659.8 1117.9 C660.4 1115.4 662.0 1111.0 662.9 1108.9 C663.9 1106.8 666.3 1102.7 667.3 1101.2 C668.2 1099.7 670.5 1096.9 671.5 1096.0 C672.5 1095.1 674.7 1093.9 675.8 1093.7 C677.0 1093.5 679.0 1094.2 680.1 1094.7 C681.1 1095.2 684.1 1097.4 685.4 1098.6 C686.7 1099.8 689.8 1104.0 691.7 1105.7 C693.5 1107.4 697.8 1110.6 700.0 1112.5 C702.2 1114.4 707.4 1119.3 708.3 1120.0 C709.3 1120.7 711.3 1121.8 712.5 1122.0 C713.7 1122.2 719.3 1122.3 720.8 1122.5 C722.4 1122.7 725.2 1124.3 726.7 1123.8 C728.1 1123.2 731.4 1119.0 733.3 1117.5 C735.3 1116.0 740.2 1113.3 741.7 1112.5 C743.2 1111.7 745.8 1109.8 747.5 1110.0 C749.2 1110.2 751.9 1112.6 753.0 1114.0 C754.1 1115.4 755.2 1118.4 755.8 1120.0 C756.5 1121.6 757.9 1125.1 758.3 1127.0 C758.7 1128.9 760.0 1139.2 760.5 1143.6 C761.0 1148.0 761.7 1157.9 762.2 1163.0 C762.6 1168.1 763.4 1177.2 763.8 1182.0 C764.1 1186.8 764.6 1196.0 764.8 1200.0 C765.1 1204.0 765.8 1211.0 766.0 1215.0 C766.2 1219.0 767.2 1248.0 767.7 1260.0 C768.1 1272.0 769.5 1312.4 770.0 1330.0 C770.5 1347.6 771.3 1387.3 771.7 1396.0 C772.0 1404.7 773.6 1423.4 774.2 1428.6 C774.7 1433.8 776.9 1446.3 777.3 1448.0 C777.7 1449.7 778.5 1453.7 780.0 1454.0 C781.5 1454.3 782.0 1450.4 782.5 1449.0 C783.0 1447.6 784.4 1442.2 785.0 1441.0 C785.6 1439.8 788.3 1437.0 788.3 1437.0"/>
<path transform="scale(1.2 1)" fill="none" stroke="#ff0000" stroke-width="6.8" stroke-linejoin="round" stroke-linecap="round" d="M169.6 1469.5 C169.6 1469.5 172.4 1442.8 172.8 1433.0 C173.2 1423.2 174.0 1376.2 174.4 1355.6 C174.8 1335.0 175.8 1273.5 176.1 1258.0 C176.4 1242.5 177.0 1215.5 177.2 1200.0 C177.4 1184.5 178.1 1109.5 178.3 1097.0 C178.6 1084.5 179.7 1055.4 180.0 1050.0 C180.3 1044.6 181.8 1031.9 182.2 1030.0 C182.7 1028.1 184.7 1024.6 186.2 1024.0 C187.6 1023.4 190.2 1025.4 191.7 1026.0 C193.1 1026.6 195.9 1028.4 197.3 1028.8 C198.8 1029.2 201.4 1029.0 202.9 1028.8 C204.4 1028.6 211.0 1026.7 214.0 1026.0 C217.0 1025.3 222.1 1023.9 225.2 1023.4 C228.2 1022.9 239.4 1021.8 241.7 1021.5 C243.9 1021.2 247.8 1020.4 250.0 1020.0 C252.2 1019.6 262.2 1018.1 266.7 1017.5 C271.1 1016.9 288.0 1014.3 295.8 1013.8 C303.7 1013.2 324.4 1012.7 333.3 1012.5 C342.2 1012.3 361.1 1012.2 366.7 1012.5 C372.3 1012.8 382.0 1014.6 387.5 1015.5 C393.0 1016.4 402.7 1019.0 408.3 1019.5 C414.0 1020.0 428.7 1018.8 433.3 1019.5 C438.0 1020.2 445.7 1023.5 450.0 1025.5 C454.3 1027.5 465.5 1034.0 470.8 1037.5 C476.2 1041.0 486.2 1048.8 491.7 1052.5 C497.1 1056.2 508.2 1063.4 512.5 1066.0 C516.8 1068.6 525.5 1073.6 529.2 1075.0 C532.9 1076.4 540.0 1076.7 543.8 1078.0 C547.5 1079.3 554.7 1082.6 558.3 1085.0 C561.9 1087.4 573.5 1097.3 575.0 1098.6 C576.5 1099.9 579.1 1102.2 580.3 1103.7 C581.6 1105.2 584.2 1109.5 585.8 1111.5 C587.3 1113.5 590.8 1117.8 592.2 1119.2 C593.6 1120.6 596.5 1123.5 598.1 1123.7 C599.6 1123.9 601.7 1121.4 602.9 1120.5 C604.1 1119.6 606.6 1116.0 608.2 1116.0 C609.9 1116.0 611.7 1119.0 612.5 1120.5 C613.3 1122.0 615.9 1129.7 616.8 1132.0 C617.8 1134.3 618.1 1140.4 620.6 1140.4 C623.0 1140.4 623.7 1134.4 624.3 1132.0 C625.0 1129.6 626.7 1119.1 627.5 1115.3 C628.3 1111.5 630.0 1103.3 630.8 1101.2 C631.5 1099.1 633.6 1095.4 635.0 1094.1 C636.4 1092.8 639.6 1091.4 641.5 1090.9 C643.4 1090.4 647.7 1090.4 650.0 1090.2 C652.3 1090.0 658.0 1089.3 660.8 1089.0 C663.7 1088.7 669.2 1088.0 671.5 1087.7 C673.8 1087.4 678.5 1086.4 680.0 1086.4 C681.5 1086.4 684.1 1086.9 685.4 1087.7 C686.7 1088.5 690.2 1091.8 691.7 1093.5 C693.1 1095.2 698.0 1102.8 700.0 1105.0 C702.0 1107.2 706.3 1111.3 708.3 1112.5 C710.3 1113.7 714.4 1114.3 716.7 1115.0 C718.9 1115.7 723.9 1117.3 725.0 1117.5 C726.1 1117.7 728.3 1117.7 729.2 1117.0 C730.1 1116.3 733.6 1111.7 735.0 1110.0 C736.4 1108.3 739.1 1104.5 740.0 1103.8 C740.9 1103.0 743.1 1102.0 744.2 1102.5 C745.2 1103.0 747.7 1105.9 748.3 1107.5 C748.9 1109.1 750.9 1118.5 751.7 1122.5 C752.4 1126.5 753.9 1137.2 754.6 1142.5 C755.3 1147.8 756.7 1160.8 757.3 1167.5 C758.0 1174.2 759.2 1187.8 759.7 1192.5 C760.1 1197.2 761.0 1205.3 761.2 1210.0 C761.5 1214.7 762.9 1246.7 763.7 1260.0 C764.4 1273.3 766.1 1304.0 767.5 1320.0 C768.9 1336.0 773.6 1379.7 774.7 1390.0 C775.7 1400.3 778.2 1425.0 778.7 1428.6 C779.1 1432.2 780.7 1440.2 781.2 1442.0 C781.8 1443.8 783.4 1447.6 784.2 1448.5 C785.0 1449.4 788.3 1450.5 788.3 1450.5"/>
</g>
<g stroke="#000" stroke-width="2.2" fill="none" stroke-linecap="butt">
<path d="M203.0 958.9 V1516.5"/>
<path d="M191.0 1504.5 H945.7"/>
<path d="M197.0 1450.0 H203.0"/>
<path d="M191.0 1395.6 H203.0"/>
<path d="M197.0 1341.2 H203.0"/>
<path d="M191.0 1286.7 H203.0"/>
<path d="M197.0 1232.2 H203.0"/>
<path d="M191.0 1177.8 H203.0"/>
<path d="M197.0 1123.3 H203.0"/>
<path d="M191.0 1068.9 H203.0"/>
<path d="M197.0 1014.5 H203.0"/>
<path d="M191.0 960.0 H203.0"/>
<path d="M277.2 1504.5 V1510.5"/>
<path d="M351.3 1504.5 V1516.5"/>
<path d="M425.5 1504.5 V1510.5"/>
<path d="M499.6 1504.5 V1516.5"/>
<path d="M573.8 1504.5 V1510.5"/>
<path d="M648.0 1504.5 V1516.5"/>
<path d="M722.1 1504.5 V1510.5"/>
<path d="M796.3 1504.5 V1516.5"/>
<path d="M870.4 1504.5 V1510.5"/>
<path d="M944.6 1504.5 V1516.5"/>
</g>
<g font-family='"Liberation Sans", Arial, sans-serif' font-size="31.6" fill="#000">
<text x="184.5" y="1513.0" text-anchor="end">0</text>
<text x="184.5" y="1404.1" text-anchor="end">20</text>
<text x="184.5" y="1295.2" text-anchor="end">40</text>
<text x="184.5" y="1186.3" text-anchor="end">60</text>
<text x="184.5" y="1077.4" text-anchor="end">80</text>
<text x="184.5" y="968.5" text-anchor="end">100</text>
<text x="203.0" y="1548.3" text-anchor="middle">0</text>
<text x="351.3" y="1548.3" text-anchor="middle">10,000</text>
<text x="499.6" y="1548.3" text-anchor="middle">20,000</text>
<text x="648.0" y="1548.3" text-anchor="middle">30,000</text>
<text x="796.3" y="1548.3" text-anchor="middle">40,000</text>
<text x="944.6" y="1548.3" text-anchor="middle">50,000</text>
</g>
<text font-family='"Liberation Serif", "Times New Roman", serif' font-size="37.7" text-anchor="middle" x="574.3" y="1607.3">Height (μm)</text>
<text font-family='"Liberation Serif", "Times New Roman", serif' font-size="44" text-anchor="middle" transform="translate(88.9 1246.8) rotate(-90)">% BS</text>
<text font-family='"Liberation Sans", Arial, sans-serif' font-size="60" x="21.3" y="946.8">(B)</text>
<rect x="313.2" y="1100.7" width="162.3" height="203.5" fill="#fff" stroke="#3a3a3a" stroke-width="1"/>
<path d="M317.6 1119.4 H377.1" stroke="#000000" stroke-width="7.6" stroke-linecap="round"/>
<text font-family='"Liberation Sans", Arial, sans-serif' font-size="26.8" x="385.7" y="1128.9">Day 0</text>
<path d="M317.4 1152.6 H377.3" stroke="#0000ff" stroke-width="3.5" stroke-linecap="round"/>
<text font-family='"Liberation Sans", Arial, sans-serif' font-size="26.8" x="385.7" y="1162.1">Day 5</text>
<path d="M317.4 1185.8 H377.3" stroke="#ff8000" stroke-width="3.5" stroke-linecap="round"/>
<text font-family='"Liberation Sans", Arial, sans-serif' font-size="26.8" x="385.7" y="1195.3">Day 15</text>
<path d="M317.4 1219.0 H377.3" stroke="#800080" stroke-width="3.5" stroke-linecap="round"/>
<text font-family='"Liberation Sans", Arial, sans-serif' font-size="26.8" x="385.7" y="1228.5">Day 21</text>
<path d="M317.4 1252.2 H377.3" stroke="#008000" stroke-width="3.5" stroke-linecap="round"/>
<text font-family='"Liberation Sans", Arial, sans-serif' font-size="26.8" x="385.7" y="1261.7">Day 26</text>
<path d="M317.6 1285.4 H377.1" stroke="#ff0000" stroke-width="7.6" stroke-linecap="round"/>
<text font-family='"Liberation Sans", Arial, sans-serif' font-size="26.8" x="385.7" y="1294.9">Day 34</text>
</g>
</svg>
</body></html>
